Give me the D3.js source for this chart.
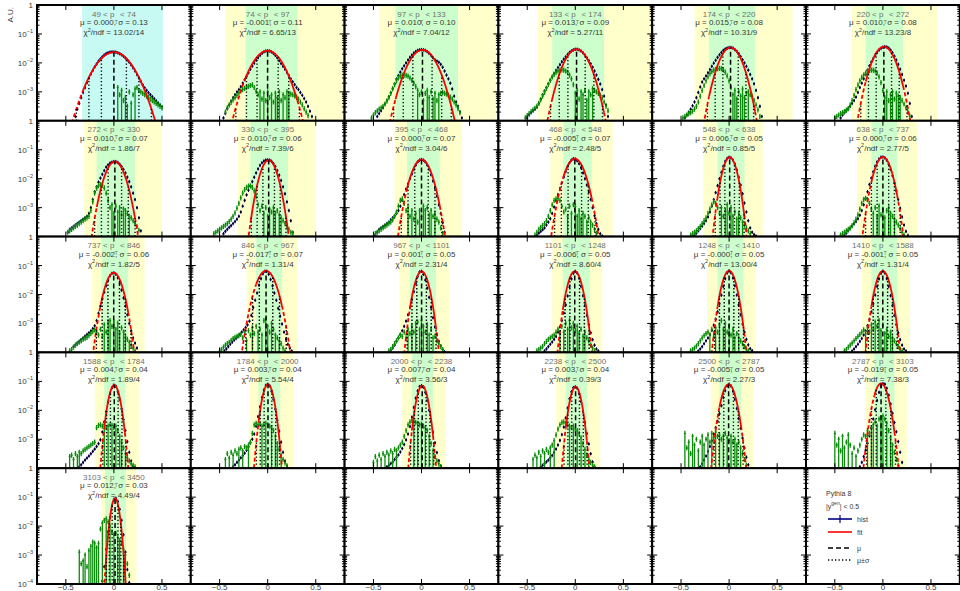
<!DOCTYPE html>
<html><head><meta charset="utf-8">
<script src="https://cdn.jsdelivr.net/npm/d3@7"></script>
<style>
html,body{margin:0;padding:0;background:#fff;}
svg{display:block;font-family:"Liberation Sans",Arial,Helvetica,sans-serif;}
</style></head><body><svg id="c" width="960" height="591"></svg>
<script>
// pT bin edges of the 25 response panels
const ptEdges = [49,74,97,133,174,220,272,330,395,468,548,638,737,846,967,1101,1248,1410,1588,1784,2000,2238,2500,2787,3103,3450];
// Gaussian fit results per panel
const mu = [0.000,-0.001,0.010,0.013,0.015,0.010, 0.010,0.010,0.000,-0.005,0.006,0.000, -0.002,-0.017,0.001,-0.006,-0.0004,-0.001, 0.004,0.003,0.007,0.003,-0.005,-0.019, 0.012];
const sigma = [0.13,0.11,0.10,0.09,0.08,0.08, 0.07,0.06,0.07,0.07,0.05,0.06, 0.06,0.07,0.05,0.05,0.05,0.05, 0.04,0.04,0.04,0.04,0.05,0.05, 0.03];
const chi2 = [13.02,6.65,7.04,5.27,10.31,13.23, 1.86,7.39,3.04,2.48,0.85,2.77, 1.82,1.31,2.31,8.60,13.00,1.31, 1.89,5.54,3.56,0.39,2.27,7.38, 4.49];
const ndf = [14,13,12,11,9,8, 7,6,6,5,5,5, 5,4,4,4,4,4, 4,4,3,3,3,3, 4];
const fitPeakLog10 = [-1.63,-1.58,-1.55,-1.53,-1.47,-1.44, -1.41,-1.36,-1.34,-1.31,-1.26,-1.25, -1.25,-1.18,-1.2,-1.2,-1.18,-1.19, -1.13,-1.10,-1.15,-1.19,-1.10,-1.07, -1.04];
// fit range (inner band) and wider range (outer band)
const innerBand = [[-0.33,0.51],[-0.23,0.31],[-0.27,0.38],[-0.24,0.30],[-0.21,0.27],[-0.18,0.21],
  [-0.18,0.22],[-0.18,0.21],[-0.15,0.19],[-0.125,0.17],[-0.12,0.16],[-0.12,0.15],
  [-0.13,0.15],[-0.12,0.15],[-0.12,0.15],[-0.13,0.15],[-0.12,0.15],[-0.12,0.15],
  [-0.10,0.115],[-0.095,0.13],[-0.10,0.12],[-0.10,0.12],[-0.10,0.125],[-0.09,0.12],
  [-0.09,0.125]];
const outerBand = [null,[-0.44,0.8],[-0.44,0.78],[-0.39,0.8],[-0.36,0.66],[-0.33,0.57],
  [-0.31,0.50],[-0.31,0.5],[-0.28,0.42],[-0.26,0.39],[-0.27,0.35],[-0.27,0.36],
  [-0.23,0.32],[-0.22,0.31],[-0.23,0.29],[-0.24,0.28],[-0.23,0.28],[-0.22,0.28],
  [-0.20,0.26],[-0.19,0.27],[-0.2,0.25],[-0.2,0.26],[-0.19,0.25],[-0.18,0.25],
  [-0.13,0.235]];
// histogram contents (log10 A.U.), bins of 0.02 starting at histStart
const histStart = [-0.40,-0.46,-0.46,-0.50,-0.46,-0.44, -0.48,-0.46,-0.48,-0.40,-0.36,-0.40, -0.42,-0.45,-0.32,-0.32,-0.32,-0.32, -0.36,-0.36,-0.36,-0.36,-0.30,-0.24, -0.12];
const histLog10 = [
 [-3.85,-3.6,-3.4,-3.2,-3.02,-2.85,-2.68,-2.53,-2.39,-2.26,-2.14,-2.04,-1.94,-1.86,-1.79,-1.73,-1.68,-1.65,-1.63,-1.62,-1.62,-1.63,-1.65,-1.68,-1.72,-1.77,-1.83,-1.9,-1.98,-2.07,-2.17,-2.28,-2.4,-2.52,-2.64,-2.76,-2.86,-2.95,-3.03,-3.1,-3.17,-3.24,-3.31,-3.38,-3.45,-3.52],
 [-3.9,-3.75,-3.58,-3.45,-3.32,-3.2,-3.1,-3.0,-2.92,-2.82,-2.7,-2.58,-2.46,-2.34,-2.22,-2.11,-2.01,-1.91,-1.82,-1.74,-1.67,-1.62,-1.59,-1.58,-1.59,-1.62,-1.67,-1.74,-1.82,-1.92,-2.02,-2.12,-2.22,-2.33,-2.44,-2.55,-2.65,-2.75,-2.85,-2.92,-3.02,-3.12,-3.23,-3.35,-3.5,-3.67,-3.85],
 [-3.85,-3.75,-3.65,-3.55,-3.42,-3.3,-3.17,-3.03,-2.88,-2.72,-2.56,-2.44,-2.32,-2.2,-2.1,-2.0,-1.9,-1.81,-1.73,-1.66,-1.61,-1.57,-1.55,-1.54,-1.55,-1.57,-1.61,-1.67,-1.74,-1.82,-1.89,-1.94,-1.98,-2.05,-2.15,-2.28,-2.42,-2.55,-2.7,-2.9,-3.15,-3.35,-3.5,-3.7,-3.9],
 [-3.9,-3.8,-3.72,-3.66,-3.6,-3.52,-3.4,-3.25,-3.1,-2.97,-2.85,-2.72,-2.6,-2.48,-2.37,-2.26,-2.16,-2.06,-1.96,-1.87,-1.79,-1.71,-1.64,-1.59,-1.55,-1.53,-1.53,-1.55,-1.59,-1.65,-1.73,-1.82,-1.92,-2.03,-2.15,-2.28,-2.42,-2.57,-2.73,-2.92,-3.15,-3.45,-3.85],
 [-3.9,-3.8,-3.7,-3.6,-3.48,-3.35,-3.2,-3.02,-2.83,-2.66,-2.55,-2.45,-2.34,-2.23,-2.12,-2.01,-1.91,-1.81,-1.72,-1.64,-1.57,-1.52,-1.49,-1.47,-1.47,-1.49,-1.54,-1.6,-1.68,-1.78,-1.89,-2.0,-2.12,-2.25,-2.4,-2.55,-2.72,-2.95,-3.2,-3.5,-3.85],
 [-3.9,-3.8,-3.72,-3.65,-3.58,-3.5,-3.4,-3.3,-3.18,-3.02,-2.85,-2.7,-2.55,-2.4,-2.25,-2.1,-1.97,-1.85,-1.74,-1.64,-1.56,-1.5,-1.46,-1.44,-1.45,-1.49,-1.56,-1.65,-1.77,-1.9,-2.05,-2.22,-2.4,-2.6,-2.8,-3.05,-3.4,-3.85],
 [-3.85,-3.75,-3.7,-3.65,-3.6,-3.55,-3.5,-3.45,-3.4,-3.35,-3.3,-3.2,-3.0,-2.72,-2.45,-2.28,-2.12,-1.98,-1.85,-1.72,-1.6,-1.52,-1.46,-1.43,-1.41,-1.41,-1.44,-1.5,-1.58,-1.68,-1.8,-1.95,-2.1,-2.28,-2.5,-2.72,-3.0,-3.35,-3.8],
 [-3.9,-3.82,-3.75,-3.68,-3.62,-3.55,-3.48,-3.4,-3.3,-3.15,-2.95,-2.75,-2.56,-2.4,-2.25,-2.1,-1.95,-1.8,-1.66,-1.54,-1.45,-1.39,-1.36,-1.35,-1.36,-1.4,-1.48,-1.58,-1.72,-1.88,-2.06,-2.28,-2.52,-2.8,-3.1,-3.45,-3.85],
 [-3.95,-3.85,-3.75,-3.7,-3.65,-3.6,-3.55,-3.5,-3.42,-3.35,-3.28,-3.2,-3.1,-2.95,-2.75,-2.55,-2.36,-2.18,-2.0,-1.84,-1.68,-1.53,-1.42,-1.36,-1.34,-1.36,-1.42,-1.53,-1.68,-1.86,-2.08,-2.33,-2.6,-2.9,-3.2,-3.52,-3.85],
 [-3.95,-3.88,-3.82,-3.76,-3.7,-3.6,-3.5,-3.38,-3.2,-2.98,-2.76,-2.55,-2.34,-2.14,-1.94,-1.75,-1.58,-1.45,-1.36,-1.31,-1.32,-1.38,-1.48,-1.62,-1.8,-2.0,-2.22,-2.46,-2.72,-3.0,-3.28,-3.55,-3.75,-3.9,-3.98],
 [-3.95,-3.88,-3.8,-3.72,-3.64,-3.55,-3.45,-3.32,-3.15,-2.95,-2.72,-2.48,-2.24,-2.0,-1.78,-1.57,-1.4,-1.3,-1.26,-1.28,-1.36,-1.5,-1.7,-1.95,-2.22,-2.52,-2.84,-3.15,-3.45,-3.7,-3.85,-3.93,-3.98],
 [-3.95,-3.88,-3.8,-3.72,-3.64,-3.56,-3.48,-3.38,-3.26,-3.1,-2.9,-2.68,-2.45,-2.2,-1.98,-1.76,-1.57,-1.42,-1.32,-1.26,-1.25,-1.28,-1.36,-1.5,-1.68,-1.9,-2.15,-2.42,-2.72,-3.02,-3.32,-3.6,-3.82,-3.96],
 [-3.8,-3.74,-3.68,-3.62,-3.56,-3.5,-3.44,-3.38,-3.32,-3.26,-3.18,-3.08,-2.9,-2.65,-2.4,-2.15,-1.92,-1.7,-1.5,-1.35,-1.27,-1.25,-1.3,-1.42,-1.62,-1.85,-2.12,-2.4,-2.7,-3.0,-3.25,-3.5,-3.68,-3.85],
 [-3.95,-3.88,-3.8,-3.72,-3.65,-3.58,-3.52,-3.45,-3.38,-3.3,-3.22,-3.14,-3.05,-2.92,-2.72,-2.45,-2.2,-1.95,-1.68,-1.45,-1.28,-1.2,-1.2,-1.3,-1.48,-1.7,-1.95,-2.2,-2.48,-2.75,-3.02,-3.3,-3.55,-3.72,-3.85,-3.95],
 [-3.95,-3.85,-3.75,-3.62,-3.5,-3.38,-3.25,-3.1,-2.92,-2.7,-2.45,-2.18,-1.9,-1.62,-1.38,-1.22,-1.2,-1.3,-1.5,-1.78,-2.1,-2.45,-2.8,-3.12,-3.4,-3.62,-3.78,-3.9,-3.98],
 [-3.95,-3.88,-3.8,-3.72,-3.64,-3.55,-3.45,-3.3,-3.12,-2.9,-2.64,-2.36,-2.05,-1.74,-1.46,-1.27,-1.2,-1.26,-1.44,-1.72,-2.04,-2.38,-2.72,-3.04,-3.32,-3.56,-3.75,-3.88,-3.95],
 [-3.95,-3.88,-3.8,-3.7,-3.6,-3.5,-3.38,-3.24,-3.06,-2.85,-2.6,-2.32,-2.02,-1.72,-1.45,-1.26,-1.18,-1.25,-1.43,-1.7,-2.02,-2.36,-2.7,-3.02,-3.3,-3.55,-3.74,-3.87,-3.94],
 [-3.95,-3.88,-3.8,-3.72,-3.62,-3.52,-3.4,-3.26,-3.08,-2.86,-2.6,-2.32,-2.02,-1.72,-1.46,-1.27,-1.19,-1.26,-1.45,-1.72,-2.04,-2.38,-2.72,-3.04,-3.32,-3.56,-3.75,-3.88,-3.95],
 [-3.95,-3.88,-3.8,-3.72,-3.65,-3.58,-3.5,-3.42,-3.34,-3.25,-3.15,-3.02,-2.75,-2.4,-2.05,-1.72,-1.42,-1.22,-1.13,-1.17,-1.35,-1.62,-1.95,-2.32,-2.7,-3.08,-3.45,-3.75,-3.92],
 [-3.95,-3.88,-3.8,-3.72,-3.64,-3.56,-3.48,-3.38,-3.26,-3.12,-3.0,-2.82,-2.55,-2.22,-1.88,-1.56,-1.3,-1.14,-1.1,-1.15,-1.34,-1.62,-1.96,-2.34,-2.72,-3.1,-3.45,-3.75,-3.92],
 [-3.95,-3.9,-3.84,-3.78,-3.7,-3.62,-3.54,-3.44,-3.32,-3.18,-3.02,-2.82,-2.56,-2.24,-1.9,-1.58,-1.33,-1.18,-1.15,-1.2,-1.38,-1.66,-2.0,-2.38,-2.76,-3.12,-3.46,-3.74,-3.92],
 [-3.95,-3.9,-3.84,-3.78,-3.72,-3.64,-3.56,-3.46,-3.34,-3.2,-3.04,-2.84,-2.58,-2.26,-1.92,-1.6,-1.36,-1.22,-1.19,-1.24,-1.42,-1.7,-2.04,-2.42,-2.8,-3.16,-3.5,-3.78,-3.95],
 [-3.95,-3.85,-3.72,-3.58,-3.42,-3.25,-3.05,-2.82,-2.6,-2.38,-2.12,-1.84,-1.56,-1.32,-1.16,-1.1,-1.16,-1.34,-1.62,-1.94,-2.28,-2.62,-2.96,-3.3,-3.62,-3.88],
 [-3.95,-3.8,-3.6,-3.38,-3.14,-2.88,-2.6,-2.3,-1.98,-1.66,-1.38,-1.18,-1.08,-1.1,-1.24,-1.48,-1.78,-2.1,-2.42,-2.74,-3.08,-3.45,-3.8],
 [-3.9,-3.4,-2.8,-2.2,-1.7,-1.3,-1.08,-1.04,-1.15,-1.42,-1.8,-2.3,-2.9,-3.5,-3.95]
];
// second (green) distribution, bins of 0.02 starting at greenStart
const greenStart = [0.04,-0.44,-0.52,-0.52,-0.48,-0.50, -0.48,-0.56,-0.48,-0.42,-0.40,-0.44, -0.46,-0.50,-0.34,-0.40,-0.40,-0.40, -0.46,-0.44,-0.50,-0.44,-0.46,-0.50, -0.36];
const greenLog10 = [
 [-2.85,-3.1,-2.95,-3.3,-3.2,-3.5,-3.0,-3.4,-3.1,-2.9,-2.85,-2.95,-3.0,-3.05,-3.1,-3.15,-3.2,-3.25,-3.3,-3.35,-3.4,-3.45,-3.5,-3.55],
 [-3.7,-3.55,-3.45,-3.36,-3.28,-3.2,-3.12,-3.04,-2.97,-2.92,-2.88,-2.84,-2.81,-2.78,-2.76,-2.85,-2.98,-3.1,-3.0,-3.25,-3.05,-3.3,-3.0,-3.2,-3.1,-3.35,-3.05,-3.2,-3.0,-3.3,-3.1,-3.2,-3.0,-3.05,-3.08,-3.1,-3.14,-3.18,-3.25,-3.35,-3.45,-3.58,-3.7,-3.82],
 [-3.9,-3.8,-3.72,-3.66,-3.6,-3.55,-3.5,-3.42,-3.32,-3.2,-3.05,-2.9,-2.75,-2.62,-2.52,-2.46,-2.43,-2.42,-2.43,-2.46,-2.52,-2.6,-2.7,-2.82,-2.95,-3.1,-3.0,-3.3,-3.05,-2.95,-3.2,-3.0,-3.25,-3.05,-3.3,-3.1,-3.05,-3.02,-3.05,-3.08,-3.12,-3.18,-3.25,-3.35,-3.45,-3.58,-3.72],
 [-3.9,-3.82,-3.75,-3.68,-3.62,-3.57,-3.5,-3.4,-3.28,-3.15,-3.02,-2.88,-2.74,-2.6,-2.48,-2.4,-2.33,-2.28,-2.25,-2.24,-2.25,-2.28,-2.33,-2.42,-2.55,-2.75,-3.05,-2.95,-3.25,-3.0,-3.1,-2.95,-3.3,-3.0,-3.1,-2.9,-2.95,-3.0,-3.05,-3.12,-3.2,-3.35,-3.5,-3.65],
 [-3.9,-3.85,-3.8,-3.76,-3.72,-3.67,-3.6,-3.5,-3.35,-3.15,-2.95,-2.78,-2.62,-2.48,-2.37,-2.3,-2.25,-2.22,-2.2,-2.19,-2.2,-2.24,-2.32,-2.45,-2.62,-2.85,-3.1,-2.95,-3.25,-3.0,-3.15,-2.9,-3.2,-3.05,-3.0,-3.1,-3.15,-3.3,-3.45,-3.62,-3.85],
 [-3.9,-3.85,-3.8,-3.75,-3.72,-3.68,-3.63,-3.58,-3.45,-3.3,-3.12,-2.92,-2.76,-2.62,-2.5,-2.42,-2.35,-2.3,-2.27,-2.25,-2.25,-2.28,-2.35,-2.48,-2.68,-2.95,-3.2,-3.0,-3.3,-3.1,-3.0,-3.25,-3.05,-3.15,-3.2,-3.3,-3.42,-3.55,-3.7,-3.85],
 [-3.85,-3.8,-3.75,-3.7,-3.65,-3.6,-3.55,-3.5,-3.45,-3.4,-3.35,-3.3,-3.1,-2.8,-2.5,-2.33,-2.24,-2.2,-2.22,-2.32,-2.5,-2.75,-3.0,-2.9,-3.2,-2.95,-3.15,-3.0,-3.25,-3.05,-3.1,-3.2,-3.3,-3.35,-3.45,-3.55,-3.65,-3.78],
 [-3.9,-3.85,-3.8,-3.75,-3.7,-3.65,-3.6,-3.55,-3.48,-3.4,-3.3,-3.18,-3.02,-2.85,-2.66,-2.5,-2.38,-2.3,-2.26,-2.25,-2.3,-2.42,-2.62,-2.9,-3.1,-2.95,-3.2,-3.0,-3.3,-3.05,-3.15,-3.0,-3.2,-3.1,-3.25,-3.35,-3.45,-3.55,-3.65,-3.75,-3.85,-3.9],
 [-3.9,-3.85,-3.8,-3.75,-3.7,-3.65,-3.6,-3.55,-3.5,-3.42,-3.3,-3.15,-2.95,-2.75,-2.7,-2.85,-3.1,-3.0,-3.3,-3.1,-3.4,-3.2,-3.5,-3.1,-3.3,-2.95,-3.1,-3.0,-3.25,-3.1,-3.3,-3.2,-3.4,-3.5,-3.7,-3.9],
 [-3.95,-3.85,-3.75,-3.68,-3.62,-3.55,-3.45,-3.3,-3.1,-2.9,-2.75,-2.7,-2.68,-2.75,-2.95,-3.15,-3.05,-3.3,-2.95,-3.2,-2.9,-2.95,-3.3,-3.1,-3.4,-3.2,-3.3,-3.5,-3.35,-3.5,-3.6,-3.75,-3.9],
 [-3.95,-3.9,-3.85,-3.8,-3.72,-3.65,-3.55,-3.45,-3.35,-3.2,-3.05,-2.9,-2.8,-2.85,-3.0,-3.2,-3.0,-3.3,-3.1,-2.9,-3.2,-3.0,-3.3,-3.15,-3.4,-3.2,-3.35,-3.5,-3.6,-3.7,-3.8,-3.9],
 [-3.95,-3.9,-3.85,-3.8,-3.75,-3.7,-3.62,-3.52,-3.4,-3.25,-3.05,-2.85,-2.72,-2.68,-2.72,-2.85,-3.05,-3.2,-3.0,-3.3,-2.95,-3.25,-3.05,-3.35,-3.1,-3.0,-3.2,-3.3,-3.4,-3.5,-3.6,-3.72,-3.85,-3.95],
 [-3.95,-3.9,-3.82,-3.75,-3.7,-3.65,-3.6,-3.55,-3.52,-3.48,-3.42,-3.35,-3.28,-3.22,-3.3,-3.4,-3.2,-3.45,-3.05,-3.3,-2.95,-2.9,-3.1,-2.95,-3.2,-3.0,-3.35,-3.15,-3.3,-3.45,-3.55,-3.65,-3.75,-3.85,-3.95],
 [-3.95,-3.9,-3.82,-3.75,-3.7,-3.65,-3.58,-3.52,-3.48,-3.45,-3.42,-3.38,-3.5,-3.3,-3.6,-3.25,-3.4,-3.15,-3.35,-3.1,-3.3,-3.2,-3.4,-2.9,-2.85,-3.1,-3.3,-3.0,-3.2,-3.4,-3.5,-3.6,-3.7,-3.85,-3.95],
 [-3.95,-3.9,-3.8,-3.7,-3.6,-3.5,-3.4,-3.45,-3.3,-3.5,-3.2,-3.35,-3.1,-3.3,-3.0,-2.95,-3.2,-2.9,-3.1,-3.3,-3.05,-3.4,-3.2,-3.5,-3.45,-3.6,-3.7,-3.8,-3.9],
 [-3.95,-3.9,-3.85,-3.8,-3.7,-3.62,-3.55,-3.5,-3.45,-3.4,-3.3,-3.2,-3.35,-3.1,-3.3,-3.0,-3.2,-2.9,-3.15,-3.0,-3.25,-3.1,-3.35,-3.2,-3.45,-3.3,-3.5,-3.6,-3.75,-3.85,-3.95],
 [-3.95,-3.9,-3.85,-3.78,-3.7,-3.6,-3.5,-3.42,-3.35,-3.3,-3.4,-3.2,-3.45,-3.15,-3.3,-3.05,-2.9,-3.2,-3.0,-3.3,-3.1,-3.4,-3.2,-3.5,-3.35,-3.5,-3.6,-3.7,-3.8,-3.9,-3.95],
 [-3.95,-3.9,-3.82,-3.75,-3.68,-3.6,-3.52,-3.45,-3.38,-3.3,-3.22,-3.35,-3.15,-3.3,-3.05,-3.2,-2.95,-3.1,-2.9,-3.25,-3.05,-3.35,-3.2,-3.45,-3.3,-3.5,-3.6,-3.7,-3.8,-3.9,-3.95],
 [-3.6,-3.55,-3.7,-3.5,-3.6,-3.45,-3.5,-3.4,-3.35,-3.3,-3.25,-3.2,-3.15,-3.1,-2.6,-2.52,-2.5,-2.55,-2.5,-2.6,-2.55,-2.5,-2.52,-2.6,-2.55,-2.7,-2.9,-3.1,-3.3,-3.5,-3.65,-3.75,-3.85,-3.9,-3.95],
 [-3.7,-3.5,-3.65,-3.45,-3.55,-3.4,-3.5,-3.35,-3.3,-3.4,-3.25,-3.3,-3.2,-3.1,-2.8,-2.5,-2.45,-2.5,-2.48,-2.55,-2.5,-2.45,-2.5,-2.55,-2.6,-2.7,-2.9,-3.15,-3.35,-3.55,-3.7,-3.82,-3.92],
 [-3.8,-3.6,-3.75,-3.55,-3.7,-3.5,-3.6,-3.45,-3.55,-3.4,-3.5,-3.35,-3.4,-3.3,-3.2,-3.1,-2.9,-2.7,-2.5,-2.4,-2.35,-2.38,-2.42,-2.45,-2.5,-2.48,-2.55,-2.6,-2.7,-2.9,-3.15,-3.4,-3.6,-3.75,-3.85,-3.95],
 [-3.7,-3.55,-3.65,-3.45,-3.6,-3.4,-3.5,-3.35,-3.45,-3.3,-3.2,-3.05,-2.85,-2.65,-2.5,-2.42,-2.4,-2.45,-2.5,-2.55,-2.6,-2.55,-2.65,-2.7,-2.8,-2.95,-3.15,-3.35,-3.55,-3.7,-3.8,-3.9,-3.95],
 [-2.8,-3.3,-3.1,-3.5,-2.9,-3.2,-3.0,-3.4,-3.1,-2.9,-3.2,-3.0,-2.85,-3.1,-2.8,-2.95,-2.75,-2.9,-2.85,-3.0,-2.9,-2.8,-2.95,-3.05,-2.9,-3.1,-3.0,-3.2,-3.1,-3.3,-3.5,-3.7,-3.9],
 [-2.8,-3.2,-3.0,-3.4,-2.9,-3.3,-3.1,-2.85,-3.2,-3.5,-3.3,-3.6,-3.4,-3.2,-3.0,-2.85,-2.9,-2.7,-2.8,-2.6,-2.5,-2.4,-2.55,-2.3,-2.25,-2.2,-2.3,-2.45,-2.7,-2.95,-3.2,-3.45,-3.7,-3.9],
 [-2.9,-3.3,-3.2,-3.0,-3.4,-2.85,-2.7,-2.55,-2.6,-2.75,-2.6,-2.1,-1.9,-1.8,-1.75,-1.85,-2.0,-2.2,-2.3,-2.25,-2.4,-2.5,-2.6,-2.8,-3.0,-3.3,-3.7]
];
// green bins whose error bars reach down to the axis
const greenSpikes = [
 [0.04,0.08,0.12,0.14,0.18,0.22],
 [-0.08,-0.04,0.0,0.04,0.08,0.1,0.12,0.16,0.2,0.22],
 [-0.04,0.02,0.06,0.08,0.12,0.14,0.18],
 [0.0,0.02,0.06,0.08,0.12,0.14,0.18],
 [0.04,0.06,0.08,0.12,0.14,0.16,0.2],
 [0.02,0.04,0.08,0.1,0.14,0.16,0.18],
 [-0.02,0.0,0.04,0.06,0.1,0.12,0.16],
 [-0.04,0.0,0.02,0.06,0.08,0.12,0.14],
 [-0.14,-0.1,-0.06,-0.02,0.02,0.04,0.08,0.1,0.14],
 [-0.08,-0.04,0.0,0.02,0.04,0.06,0.08,0.12,0.16],
 [-0.08,-0.04,-0.02,0.02,0.04,0.08,0.1,0.14],
 [-0.1,-0.06,-0.04,0.0,0.02,0.06,0.08,0.12],
 [-0.1,-0.06,-0.04,0.0,0.02,0.04,0.06,0.1,0.12,0.16],
 [-0.22,-0.16,-0.1,-0.06,-0.02,0.0,0.04,0.08,0.12],
 [-0.14,-0.1,-0.06,-0.02,0.0,0.02,0.06,0.08,0.12],
 [-0.16,-0.12,-0.08,-0.06,-0.02,0.02,0.04,0.08,0.1],
 [-0.2,-0.14,-0.1,-0.06,-0.04,0.0,0.04,0.06,0.1],
 [-0.18,-0.12,-0.08,-0.04,-0.02,0.02,0.04,0.08,0.1],
 [-0.46,-0.42,-0.38,-0.36,-0.1,-0.06,-0.02,0.02,0.06,0.08,0.12],
 [-0.44,-0.4,-0.36,-0.3,-0.26,-0.2,-0.06,-0.02,0.04,0.08,0.1,0.14],
 [-0.5,-0.46,-0.42,-0.38,-0.34,-0.3,-0.26,-0.08,-0.04,0.0,0.04,0.08,0.12],
 [-0.44,-0.4,-0.36,-0.32,-0.26,-0.22,-0.06,-0.02,0.02,0.06,0.1,0.14],
 [-0.46,-0.42,-0.38,-0.36,-0.32,-0.28,-0.26,-0.22,-0.18,-0.14,-0.1,-0.06,-0.02,0.02,0.06,0.08,0.12],
 [-0.5,-0.46,-0.42,-0.4,-0.36,-0.32,-0.28,-0.16,-0.12,-0.1,-0.06,-0.02,0.0,0.04,0.08,0.1],
 [-0.36,-0.32,-0.3,-0.26,-0.24,-0.22,-0.2,-0.18,-0.16,-0.12,-0.08,-0.04,0.0,0.04,0.06,0.1,0.12]
];
const yTickExp = [0,-1,-2,-3,-4];
const xTicks = [-0.5,0,0.5];
const BIN = 0.02;

// ---- layout ----
const NCOL = 6, NROW = 5;
const L0 = 37, T0 = 5, PW = 153.8, PH = 115.8;
const svg = d3.select("#c");
const fmtX = d3.format(".1~f");
const C = {yellow:"#ffffcc", green:"#ccffcc", cyan:"#c6faf2", hist:"#000080", fit:"#ff0000", alt:"#0b8c0b", txt1:"#707070", txt2:"#383838"};

function gaussLog(p, x){ const z = (x - mu[p]) / sigma[p]; return fitPeakLog10[p] - z*z/(2*Math.LN10); }
const pw = v => Math.pow(10, Math.max(v, -6));

for (let p = 0; p < NCOL*NROW; p++){
  const col = p % NCOL, row = Math.floor(p / NCOL);
  const x0 = L0 + col*PW, y0 = T0 + row*PH;
  const x = d3.scaleLinear().domain([-0.8,0.8]).range([x0, x0+PW]);
  const y = d3.scaleLog().domain([1e-4,1]).range([y0+PH, y0]);
  const g = svg.append("g");
  g.append("rect").attr("x",x0).attr("y",y0).attr("width",PW).attr("height",PH).attr("fill","#fff");
  const cid = "clip"+p;
  svg.append("clipPath").attr("id",cid).append("rect").attr("x",x0).attr("y",y0).attr("width",PW).attr("height",PH);
  const body = g.append("g").attr("clip-path",`url(#${cid})`);

  if (p < ptEdges.length - 1){
    // bands
    const ob = outerBand[p], ib = innerBand[p];
    if (ob) body.append("rect").attr("x",x(ob[0])).attr("y",y0).attr("width",x(ob[1])-x(ob[0])).attr("height",PH).attr("fill",C.yellow);
    body.append("rect").attr("x",x(ib[0])).attr("y",y0).attr("width",x(ib[1])-x(ib[0])).attr("height",PH).attr("fill",ob ? C.green : C.cyan);

    // histogram
    const hv = histLog10[p];
    hv.forEach((v,i) => {
      const xc = histStart[p] + i*BIN;
      body.append("line").attr("x1",x(xc-BIN/2)).attr("x2",x(xc+BIN/2)).attr("y1",y(pw(v))).attr("y2",y(pw(v)))
        .attr("stroke",C.hist).attr("stroke-width",1.6);
      body.append("line").attr("x1",x(xc)).attr("x2",x(xc)).attr("y1",y(pw(v+0.06))).attr("y2",y(pw(v-0.06)))
        .attr("stroke",C.hist).attr("stroke-width",1);
      body.append("circle").attr("cx",x(xc)).attr("cy",y(pw(v))).attr("r",0.9).attr("fill","#000");
    });

    // second distribution
    const gv = greenLog10[p];
    const spikeIdx = new Set(greenSpikes[p].map(s => Math.round((s - greenStart[p])/BIN)));
    gv.forEach((v,i) => {
      const xc = greenStart[p] + i*BIN;
      body.append("line").attr("x1",x(xc-BIN/2)).attr("x2",x(xc+BIN/2)).attr("y1",y(pw(v))).attr("y2",y(pw(v)))
        .attr("stroke",C.alt).attr("stroke-width",1.5);
      const lo = spikeIdx.has(i) ? -5 : v-0.09;
      body.append("line").attr("x1",x(xc)).attr("x2",x(xc)).attr("y1",y(pw(v+0.09))).attr("y2",y(pw(lo)))
        .attr("stroke",C.alt).attr("stroke-width",1.3);
    });

    // fit: solid inside the fit range, dashed outside
    const xs = d3.range(-0.8, 0.8001, 0.002);
    const line = d3.line().x(d => x(d)).y(d => y(pw(gaussLog(p,d))));
    body.append("path").attr("d", line.defined(d => d >= ib[0] && d <= ib[1])(xs))
      .attr("fill","none").attr("stroke",C.fit).attr("stroke-width",1.8);
    body.append("path").attr("d", d3.line().x(d => x(d)).y(d => y(pw(gaussLog(p,d)))).defined(d => d < ib[0] + 0.002)(xs))
      .attr("fill","none").attr("stroke",C.fit).attr("stroke-width",1.8).attr("stroke-dasharray","4,2.5");
    body.append("path").attr("d", d3.line().x(d => x(d)).y(d => y(pw(gaussLog(p,d)))).defined(d => d > ib[1] - 0.002)(xs))
      .attr("fill","none").attr("stroke",C.fit).attr("stroke-width",1.8).attr("stroke-dasharray","4,2.5");

    // mu +- k sigma
    for (let k = 1; k <= 4; k++){
      for (const s of [-1,1]){
        const xv = mu[p] + s*k*sigma[p];
        const top = gaussLog(p, xv);
        if (top < -4) continue;
        body.append("line").attr("x1",x(xv)).attr("x2",x(xv)).attr("y1",y0+PH).attr("y2",y(pw(top)))
          .attr("stroke","#000").attr("stroke-width",1.4).attr("stroke-dasharray","1.3,2.2");
      }
    }
    body.append("line").attr("x1",x(mu[p])).attr("x2",x(mu[p])).attr("y1",y0+PH).attr("y2",y(pw(fitPeakLog10[p])))
      .attr("stroke","#000").attr("stroke-width",1.5).attr("stroke-dasharray","5,3");

    // labels
    const cx = x0 + PW/2;
    const t1 = g.append("text").attr("x",cx).attr("y",y0+11.5).attr("text-anchor","middle").attr("font-size",8).attr("fill",C.txt1);
    t1.append("tspan").text(`${ptEdges[p]} < p`);
    t1.append("tspan").attr("dy",7).attr("font-size",5.5).text("T");
    t1.append("tspan").attr("dy",-7).text(` < ${ptEdges[p+1]}`);
    g.append("text").attr("x",cx).attr("y",y0+20).attr("text-anchor","middle").attr("font-size",8).attr("fill",C.txt2)
      .text(`\u03bc = ${mu[p].toFixed(3)}, \u03c3 = ${sigma[p].toFixed(2)}`);
    const t3 = g.append("text").attr("x",cx).attr("y",y0+30).attr("text-anchor","middle").attr("font-size",8).attr("fill",C.txt2);
    t3.append("tspan").text("\u03c7");
    t3.append("tspan").attr("dy",-3.5).attr("font-size",5.5).text("2");
    t3.append("tspan").attr("dy",3.5).text(`/ndf = ${chi2[p].toFixed(2)}/${ndf[p]}`);
  }

  // frame ticks
  const tk = g.append("g").attr("stroke","#000").attr("stroke-width",1);
  for (let e = -4; e <= 0; e++){
    const yy = y(Math.pow(10,e));
    tk.append("line").attr("x1",x0).attr("x2",x0+5).attr("y1",yy).attr("y2",yy);
    tk.append("line").attr("x1",x0+PW).attr("x2",x0+PW-5).attr("y1",yy).attr("y2",yy);
    if (e < 0) for (let m = 2; m <= 9; m++){
      const ym = y(m*Math.pow(10,e));
      tk.append("line").attr("x1",x0).attr("x2",x0+2.5).attr("y1",ym).attr("y2",ym);
      tk.append("line").attr("x1",x0+PW).attr("x2",x0+PW-2.5).attr("y1",ym).attr("y2",ym);
    }
  }
  xTicks.forEach(t => {
    tk.append("line").attr("x1",x(t)).attr("x2",x(t)).attr("y1",y0+PH).attr("y2",y0+PH-5);
    tk.append("line").attr("x1",x(t)).attr("x2",x(t)).attr("y1",y0).attr("y2",y0+5);
  });
  g.append("rect").attr("x",x0).attr("y",y0).attr("width",PW).attr("height",PH)
    .attr("fill","none").attr("stroke","#000").attr("stroke-width",2);

  // axis labels on the outer edges
  if (col === 0){
    yTickExp.forEach(e => {
      if (e === -4 && row < NROW-1) return;
      const yy = y(Math.pow(10,e));
      const t = svg.append("text").attr("x",33).attr("y",yy+3).attr("text-anchor","end").attr("font-size",8).attr("fill",C.txt2);
      if (e === 0) t.text("1");
      else { t.append("tspan").text("10"); t.append("tspan").attr("dy",-4).attr("font-size",5.5).text(`\u2212${-e}`); }
    });
  }
  if (row === NROW-1){
    xTicks.forEach(t => {
      svg.append("text").attr("x",x(t)).attr("y",590).attr("text-anchor","middle").attr("font-size",8).attr("fill",C.txt2).text(fmtX(t));
    });
  }
}

// y axis title
svg.append("text").attr("transform","translate(13,7) rotate(-90)").attr("text-anchor","end").attr("font-size",8).attr("fill",C.txt2).text("A.U.");

// legend
const lx = 828, lg = svg.append("g").attr("font-size",7).attr("fill",C.txt2);
lg.append("text").attr("x",826).attr("y",496).text("Pythia 8");
const ty = lg.append("text").attr("x",826).attr("y",509);
ty.append("tspan").text("|y");
ty.append("tspan").attr("dy",-4).attr("font-size",5).text("gen");
ty.append("tspan").attr("dy",4).text("| < 0.5");
const entries = [
  {label:"hist", y:519, stroke:C.hist, dash:null, w:1.6},
  {label:"fit", y:532, stroke:C.fit, dash:null, w:1.6},
  {label:"\u03bc", y:548, stroke:"#000", dash:"5,3", w:1.5},
  {label:"\u03bc\u00b1\u03c3", y:560, stroke:"#000", dash:"1.3,2.2", w:1.4}
];
entries.forEach(en => {
  const l = lg.append("line").attr("x1",lx).attr("x2",lx+24).attr("y1",en.y).attr("y2",en.y)
    .attr("stroke",en.stroke).attr("stroke-width",en.w);
  if (en.dash) l.attr("stroke-dasharray",en.dash);
  if (en.label === "hist") lg.append("line").attr("x1",lx+12).attr("x2",lx+12).attr("y1",en.y-4).attr("y2",en.y+4).attr("stroke",C.hist).attr("stroke-width",1.2);
  lg.append("text").attr("x",lx+29).attr("y",en.y+2.5).text(en.label);
});
</script></body></html>
